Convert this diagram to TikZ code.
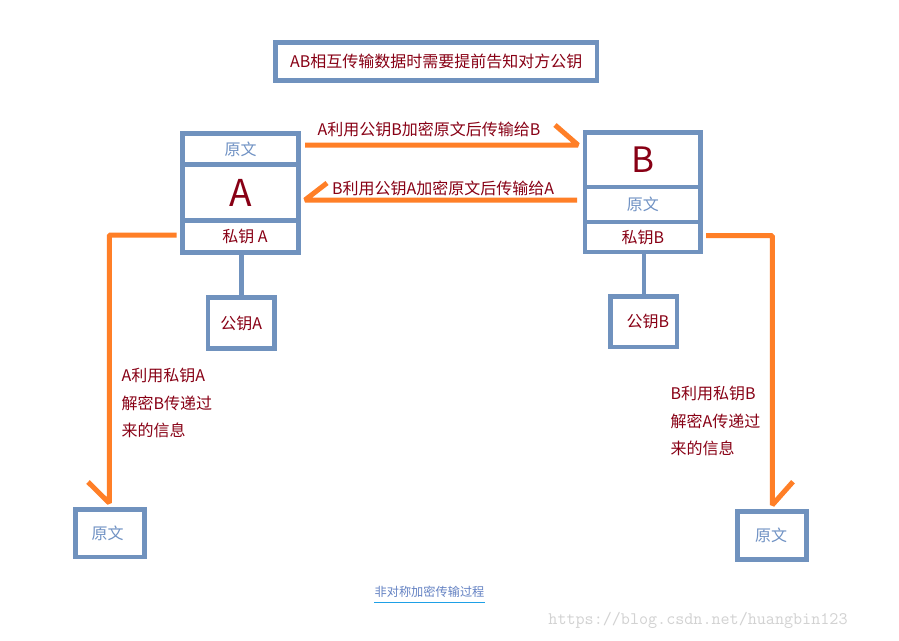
\documentclass[tikz,border=0pt]{standalone}
\usepackage{fontspec}
\setmainfont{Noto Sans CJK SC}
\usetikzlibrary{calc}
\definecolor{boxblue}{RGB}{112,146,190}
\definecolor{arrorange}{RGB}{255,127,39}
\definecolor{txtred}{RGB}{136,0,21}
\definecolor{lightblue}{RGB}{112,146,196}
\definecolor{capblue}{RGB}{100,130,195}
\definecolor{uline}{RGB}{30,160,230}
\definecolor{wmgray}{RGB}{210,210,210}
\begin{document}
\begin{tikzpicture}[x=1pt,y=-1pt,
  bluebox/.style={draw=boxblue,line width=4.5pt,inner sep=0pt,outer sep=0pt,
    font=\fontsize{16}{19}\selectfont,text=txtred},
  lbtext/.style={text=lightblue},
  oline/.style={draw=arrorange,line width=5pt,line join=bevel},
  lbl/.style={inner sep=0pt,font=\fontsize{16}{19}\selectfont,text=txtred},
  multi/.style={inner sep=0pt,align=left,anchor=west,font=\fontsize{16}{27.5}\selectfont,text=txtred}]
\useasboundingbox (0,0) rectangle (899,640);
\fill[white] (0,0) rectangle (899,640);

% title
\node[bluebox,minimum width=321.5,minimum height=38] (title) at (436.25,61.5) {AB相互传输数据时需要提前告知对方公钥};

% A stack
\node[bluebox,lbtext,minimum width=116,minimum height=31] (aTop) at (240.5,149) {原文};
\node[bluebox,minimum width=116,minimum height=56,font=\fontsize{37}{40}\selectfont] (aMid) at (240.5,192.5) {A};
\node[bluebox,minimum width=116,minimum height=32] (aBot) at (240.5,236.5) {\hspace*{9pt}私钥 A};
\node[bluebox,minimum width=66.5,minimum height=51] (pubA) at (241.25,323) {公钥A};
\draw[draw=boxblue,line width=4.5pt] (pubA.north) -- (pubA.north |- aBot.south);

% B stack
\node[bluebox,minimum width=115.5,minimum height=54.5,font=\fontsize{35}{38}\selectfont] (bTop) at (642.75,159.75) {B};
\node[bluebox,lbtext,minimum width=115.5,minimum height=35] (bMid) at (642.75,204.5) {原文};
\node[bluebox,minimum width=115.5,minimum height=30] (bBot) at (642.75,237) {私钥B};
\node[bluebox,minimum width=66.5,minimum height=50.5] (pubB) at (643.75,321.75) {\hspace*{8pt}公钥B};
\draw[draw=boxblue,line width=4.5pt] (pubB.north) -- (pubB.north |- bBot.south);

% result boxes
\node[bluebox,lbtext,minimum width=69,minimum height=47.5] (origA) at (110,533.25) {\hspace*{-5pt}原文};
\node[bluebox,lbtext,minimum width=69,minimum height=48] (origB) at (772,535.5) {\hspace*{-2pt}原文};

% arrow end coordinates
\coordinate (t1s) at (305,145);
\coordinate (t1e) at (578,145);
\coordinate (t1b) at (555,125);
\coordinate (t2s) at (577,200);
\coordinate (t2e) at (305,200);
\coordinate (t2b) at (327,183);
\coordinate (las) at (176.7,235);
\coordinate (lac) at (109.3,235);
\coordinate (lae) at (109.3,503);
\coordinate (lab) at (88,482);
\coordinate (rbs) at (706,235.7);
\coordinate (rbc) at (772.3,235.7);
\coordinate (rbe) at (772.3,505);
\coordinate (rbb) at (793,481.7);

\draw[oline] (t1s) -- (t1e) -- (t1b);
\draw[oline] (t2s) -- (t2e) -- (t2b);
\draw[oline] (las) -- (lac) -- (lae) -- (lab);
\draw[oline] (rbs) -- (rbc) -- (rbe) -- (rbb);

% labels
\node[lbl] (l1) at (429,129.3) {A利用公钥B加密原文后传输给B};
\node[lbl] (l2) at (443,188.3) {B利用公钥A加密原文后传输给A};
\node[multi] (ltxt) at (121.5,403) {A利用私钥A\\解密B传递过\\来的信息};
\node[multi] (rtxt) at (670.5,421) {B利用私钥B\\解密A传递过\\来的信息};

% caption
\node[inner sep=0pt,font=\fontsize{12.2}{14}\selectfont,text=capblue] (cap) at (429.5,591.7) {非对称加密传输过程};
\draw[draw=uline,line width=1.2pt] ([yshift=-6pt]cap.base west) -- ([yshift=-6pt]cap.base east);

% watermark
\node[inner sep=0pt,font=\ttfamily\fontsize{17.6}{20}\selectfont,text=wmgray] (wm) at (698,620) {https://blog.csdn.net/huangbin123};
\end{tikzpicture}
\end{document}
